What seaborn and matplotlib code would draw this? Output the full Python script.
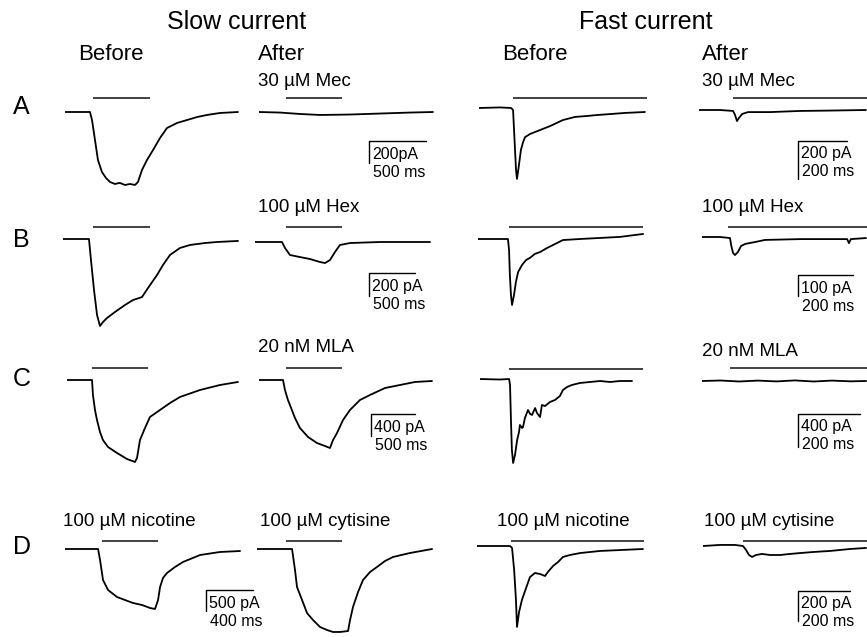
import matplotlib
matplotlib.use('Agg')
import matplotlib.pyplot as plt
import seaborn as sns

sns.set_theme(style='white')
plt.rcParams['font.family'] = ['Liberation Sans', 'DejaVu Sans']
plt.rcParams['text.color'] = 'black'

# ---------------- data (time in ms, current in pA) ----------------
# Slow current, row A
slowA_before_t = [0, 219, 237, 263, 289, 324, 360, 395, 438, 480, 526, 570, 614, 640, 675, 719, 772, 833, 894, 982, 1070, 1158, 1245, 1359, 1517]
slowA_before_i = [0, 0, -73, -255, -437, -546, -601, -637, -655, -645, -664, -655, -664, -637, -528, -437, -346, -237, -146, -100, -73, -46, -27, -9, 0]
slowA_after_t = [0, 184, 359, 535, 798, 1061, 1324, 1526]
slowA_after_i = [0, -5, -18, -27, -23, -14, -5, 0]
# Slow current, row B
slowB_before_t = [0, 283, 305, 338, 371, 403, 436, 480, 567, 676, 763, 861, 927, 1025, 1090, 1166, 1275, 1384, 1548, 1679, 1908]
slowB_before_i = [0, 0, -183, -444, -661, -757, -722, -687, -635, -574, -531, -505, -426, -313, -226, -139, -78, -52, -35, -26, -17]
slowB_after_t = [0, 294, 327, 381, 490, 599, 708, 763, 817, 872, 926, 1035, 1362, 1908]
slowB_after_i = [0, 0, -52, -113, -131, -148, -174, -183, -157, -87, -26, -9, 0, 0]
# Slow current, row C
slowC_before_t = [0, 285, 296, 319, 342, 376, 410, 467, 570, 684, 775, 798, 832, 889, 946, 1060, 1174, 1288, 1516, 1744, 1949]
slowC_before_i = [0, 0, -273, -546, -728, -946, -1092, -1219, -1328, -1438, -1492, -1420, -1092, -874, -673, -546, -419, -309, -182, -91, -36]
slowC_after_t = [0, 274, 296, 330, 353, 410, 467, 559, 661, 752, 809, 844, 889, 958, 1037, 1151, 1265, 1436, 1607, 1778, 1972]
slowC_after_i = [0, 0, -182, -364, -455, -692, -874, -1037, -1147, -1201, -1238, -1092, -965, -728, -546, -364, -273, -146, -91, -36, -18]
# Slow current, row D
slowD_before_t = [0, 281, 298, 323, 366, 442, 510, 578, 655, 723, 765, 791, 808, 833, 867, 935, 1003, 1148, 1318, 1488]
slowD_before_i = [0, 0, -262, -738, -976, -1142, -1214, -1285, -1333, -1404, -1428, -1214, -904, -690, -571, -428, -309, -143, -71, -48]
slowD_after_t = [0, 298, 323, 340, 383, 425, 476, 536, 595, 646, 706, 774, 791, 816, 859, 901, 961, 1020, 1088, 1156, 1301, 1488]
slowD_after_i = [0, 0, -500, -904, -1214, -1523, -1690, -1857, -1928, -1975, -1975, -1952, -1690, -1380, -1023, -738, -547, -428, -286, -190, -95, 0]
# Fast current, row A
fastA_before_t = [0, 86, 131, 139, 143, 147, 151, 155, 163, 171, 180, 188, 208, 229, 249, 290, 343, 392, 441, 481, 534, 595, 677]
fastA_before_i = [0, 3, 0, -11, -116, -221, -326, -373, -300, -221, -179, -153, -137, -126, -116, -95, -63, -47, -42, -37, -32, -26, -21]
fastA_after_t = [0, 86, 139, 147, 155, 163, 176, 200, 290, 412, 535, 681]
fastA_after_i = [0, 0, -5, -26, -58, -42, -21, -11, -11, -5, -3, 0]
# Fast current, row B
fastB_before_t = [0, 62, 109, 113, 116, 120, 124, 131, 138, 146, 160, 175, 189, 207, 226, 251, 280, 309, 371, 444, 517, 601]
fastB_before_i = [0, 0, 0, -52, -171, -267, -314, -267, -205, -157, -124, -100, -90, -71, -62, -43, -24, -5, 0, 5, 10, 24]
fastB_after_t = [0, 66, 102, 106, 113, 120, 131, 142, 157, 193, 229, 357, 466, 528, 535, 542, 597]
fastB_after_i = [0, 0, -5, -38, -76, -86, -71, -43, -33, -24, -14, -10, -10, -10, -29, -10, -5]
# Fast current, row C
fastC_before_t = [0, 65, 94, 97, 100, 103, 107, 113, 120, 126, 129, 136, 139, 145, 155, 162, 168, 178, 184, 194, 200, 210, 226, 242, 258, 268, 281, 297, 323, 355, 388, 420, 452, 491]
fastC_before_i = [24, 18, 24, -48, -472, -835, -992, -895, -714, -617, -532, -569, -557, -448, -351, -399, -411, -327, -387, -436, -290, -303, -254, -230, -182, -109, -73, -48, -24, -12, 0, -12, 0, 0]
fastC_after_t = [0, 60, 120, 180, 240, 300, 360, 420, 480, 530]
fastC_after_i = [0, 6, -6, 5, -5, 7, -6, 5, -4, 0]
# Fast current, row D
fastD_before_t = [0, 69, 127, 135, 143, 150, 154, 162, 173, 189, 204, 223, 243, 262, 273, 293, 312, 331, 358, 397, 474, 551, 639]
fastD_before_i = [0, 0, 0, -13, -160, -360, -540, -440, -360, -280, -207, -180, -187, -200, -173, -133, -107, -73, -60, -47, -33, -27, -20]
fastD_after_t = [0, 65, 123, 154, 166, 177, 189, 204, 227, 258, 297, 335, 374, 424, 489, 566, 628]
fastD_after_i = [0, 7, 7, 0, -27, -60, -73, -60, -53, -60, -60, -53, -47, -40, -33, -20, -13]

# agonist application bars: (start ms, end ms, level pA)
bars = {
    'slowA_before': (246, 745, 127), 'slowA_after': (237, 728, 127),
    'slowB_before': (327, 948, 104), 'slowB_after': (338, 948, 131),
    'slowC_before': (285, 923, 218), 'slowC_after': (308, 946, 218),
    'slowD_before': (315, 791, 190), 'slowD_after': (247, 723, 190),
    'fastA_before': (139, 685, 53), 'fastA_after': (139, 685, 63),
    'fastB_before': (113, 601, 57), 'fastB_after': (95, 601, 48),
    'fastC_before': (94, 526, 145), 'fastC_after': (90, 533, 157),
    'fastD_before': (131, 643, 33), 'fastD_after': (154, 631, 33),
}

# scale bars: panel, current length, time length, labels
scale_panels = ['slowA_after', 'slowB_after', 'slowC_after', 'slowD_before',
                'fastA_after', 'fastB_after', 'fastC_after', 'fastD_after']
scale_pA = [200, 200, 400, 500, 200, 100, 400, 200]
scale_ms = [500, 500, 500, 400, 200, 200, 200, 200]
scale_pA_labels = ['200pA', '200 pA', '400 pA', '500 pA', '200 pA', '100 pA', '400 pA', '200 pA']
scale_ms_labels = ['500 ms', '500 ms', '500 ms', '400 ms', '200 ms', '200 ms', '200 ms', '200 ms']
scale_origin = [(965, -264), (1243, -270), (1277, -619), (1199, -976),
                (404, -163), (349, -181), (310, -399), (366, -300)]

traces = {
    'slowA_before': (slowA_before_t, slowA_before_i), 'slowA_after': (slowA_after_t, slowA_after_i),
    'slowB_before': (slowB_before_t, slowB_before_i), 'slowB_after': (slowB_after_t, slowB_after_i),
    'slowC_before': (slowC_before_t, slowC_before_i), 'slowC_after': (slowC_after_t, slowC_after_i),
    'slowD_before': (slowD_before_t, slowD_before_i), 'slowD_after': (slowD_after_t, slowD_after_i),
    'fastA_before': (fastA_before_t, fastA_before_i), 'fastA_after': (fastA_after_t, fastA_after_i),
    'fastB_before': (fastB_before_t, fastB_before_i), 'fastB_after': (fastB_after_t, fastB_after_i),
    'fastC_before': (fastC_before_t, fastC_before_i), 'fastC_after': (fastC_after_t, fastC_after_i),
    'fastD_before': (fastD_before_t, fastD_before_i), 'fastD_after': (fastD_after_t, fastD_after_i),
}

# ---------------- layout (pixel placement + ms/px, pA/px) ----------------
W, H = 867, 637
layout = {
    'slowA_before': (65, 112, 8.77, 9.1, 180), 'slowA_after': (259, 112, 8.77, 9.1, 180),
    'slowB_before': (63, 239, 10.9, 8.7, 180), 'slowB_after': (255, 242, 10.9, 8.7, 180),
    'slowC_before': (67, 380, 11.4, 18.2, 180), 'slowC_after': (259, 380, 11.4, 18.2, 180),
    'slowD_before': (65, 549, 8.5, 23.8, 180), 'slowD_after': (257, 549, 8.5, 23.8, 180),
    'fastA_before': (479, 108, 4.08, 5.26, 175), 'fastA_after': (699, 110, 4.08, 5.26, 168),
    'fastB_before': (478, 239, 3.64, 4.76, 175), 'fastB_after': (702, 237, 3.64, 4.76, 165),
    'fastC_before': (480, 381, 3.23, 12.1, 175), 'fastC_after': (702, 381, 3.23, 12.1, 165),
    'fastD_before': (477, 546, 3.85, 6.67, 175), 'fastD_after': (703, 546, 3.85, 6.67, 164),
}

fig = plt.figure(figsize=(8.67, 6.37), dpi=100)
fig.patch.set_facecolor('white')
UP, DOWN = 30, 100
axes = {}
for name, (x0, base, ft, fi, wid) in layout.items():
    ax = fig.add_axes([x0 / W, 1 - (base + DOWN) / H, wid / W, (UP + DOWN) / H])
    ax.set_xlim(0, wid * ft)
    ax.set_ylim(-DOWN * fi, UP * fi)
    ax.axis('off')
    ax.patch.set_alpha(0)
    axes[name] = ax
    t, i = traces[name]
    sns.lineplot(x=t, y=i, ax=ax, color='black', linewidth=1.3,
                 estimator=None, sort=False)
    b0, b1, lvl = bars[name]
    ax.plot([b0, b1], [lvl, lvl], color='#333333', lw=1.3, solid_capstyle='butt')

for name, pa, ms, lp, lm, (tv, itop) in zip(scale_panels, scale_pA, scale_ms,
                                            scale_pA_labels, scale_ms_labels, scale_origin):
    ax = axes[name]
    ax.plot([tv, tv, tv + ms], [itop - pa, itop, itop], color='black', lw=1.0,
            clip_on=False)
    ax.annotate(lp, xy=(tv, itop), xytext=(3, -13), textcoords='offset pixels',
                ha='left', va='center', fontsize=11.5, color='black')
    ax.annotate(lm, xy=(tv, itop), xytext=(4, -31), textcoords='offset pixels',
                ha='left', va='center', fontsize=11.5, color='black')

def ftext(x, y, s, size, ha='left'):
    fig.text(x / W, 1 - y / H, s, fontsize=size, ha=ha, va='center', color='black')

ftext(237, 22, 'Slow current', 18, 'center')
ftext(646, 22, 'Fast current', 18, 'center')
for x, s in [(78, 'Before'), (258, 'After'), (502, 'Before'), (702, 'After')]:
    ftext(x, 55, s, 16)
for x, y, s in [(258, 82, '30 µM Mec'), (702, 82, '30 µM Mec'),
                (258, 207, '100 µM Hex'), (702, 207, '100 µM Hex'),
                (258, 347, '20 nM MLA'), (702, 352, '20 nM MLA'),
                (63, 521, '100 µM nicotine'), (260, 521, '100 µM cytisine'),
                (497, 521, '100 µM nicotine'), (704, 521, '100 µM cytisine')]:
    ftext(x, y, s, 13.5)
for y, s in [(107, 'A'), (240, 'B'), (379, 'C'), (547, 'D')]:
    ftext(13, y, s, 18)

fig.savefig('out.png', dpi=100, facecolor='white')
